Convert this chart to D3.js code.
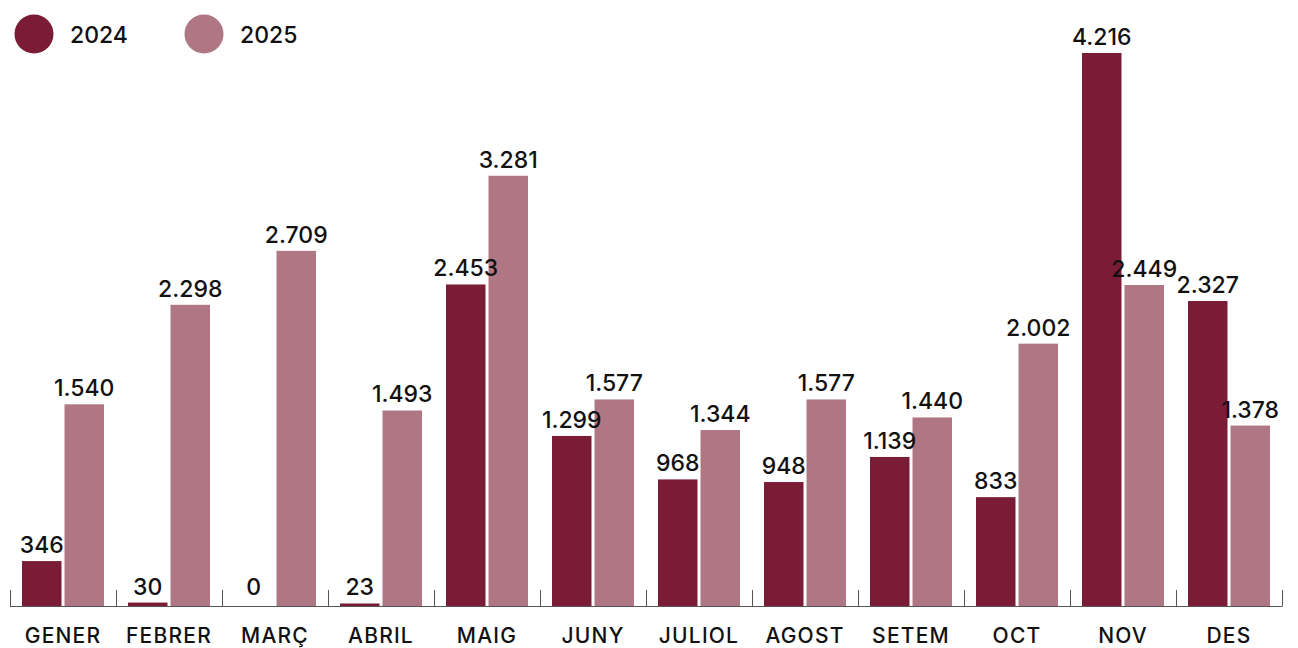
<!DOCTYPE html>
<html><head><meta charset="utf-8">
<script src="https://cdn.jsdelivr.net/npm/d3@7"></script>
<style>
html,body{margin:0;padding:0;background:#fff;}
text{font-family:Inter, "Liberation Sans", sans-serif;}
</style></head>
<body><svg id="chart" width="1298" height="648"></svg>
<script>
const months = ["GENER","FEBRER","MARÇ","ABRIL","MAIG","JUNY","JULIOL","AGOST","SETEM","OCT","NOV","DES"];
const seriesKeys = ["2024","2025"];
const values2024 = [346,30,0,23,2453,1299,968,948,1139,833,4216,2327];
const values2025 = [1540,2298,2709,1493,3281,1577,1344,1577,1440,2002,2449,1378];
const colors = ["#7a1c35","#af7784"];

const svg = d3.select("#chart");
const base = 606.5;
const x0 = d3.scaleBand().domain(months).range([10, 1282]).paddingInner(0).paddingOuter(0);
const bw = x0.bandwidth();
const x1 = d3.scaleBand().domain(seriesKeys).range([12, bw - 12]).paddingInner(0.071);
const y = d3.scaleLinear().domain([0, 4216]).range([base, 53]);
const loc = d3.formatLocale({decimal:",", thousands:".", grouping:[3], currency:["","€"]});
const fmt = loc.format(",d");

const data = months.map((m,i)=>({m, vals:[{k:"2024",v:values2024[i]},{k:"2025",v:values2025[i]}]}));

// bars
const g = svg.append("g");
const grp = g.selectAll("g.m").data(data).join("g").attr("transform", d=>`translate(${x0(d.m)},0)`);
grp.selectAll("rect").data(d=>d.vals).join("rect")
  .attr("x", d=>x1(d.k)).attr("width", x1.bandwidth())
  .attr("y", d=>y(d.v)).attr("height", d=>base - y(d.v))
  .attr("fill", (d,i)=>colors[i]);
grp.selectAll("text.val").data(d=>d.vals).join("text").attr("class","val")
  .attr("x", d=>x1(d.k)+x1.bandwidth()/2)
  .attr("y", d=>Math.min(y(d.v), base-4) - 8)
  .attr("text-anchor","middle")
  .attr("font-size", 23).attr("font-weight", 500).attr("fill","#111")
  .text(d=>fmt(d.v));

// axis
const ax = svg.append("g");
ax.append("line").attr("x1", 10).attr("x2", 1282).attr("y1", base).attr("y2", base).attr("stroke","#555").attr("stroke-width",1);
const bounds = months.map(m=>x0(m)).concat([x0(months[months.length-1])+bw]);
ax.selectAll("line.tick").data(bounds).join("line").attr("class","tick")
  .attr("x1", d=>Math.round(d)+0.5).attr("x2", d=>Math.round(d)+0.5)
  .attr("y1", 590).attr("y2", base).attr("stroke","#555").attr("stroke-width",1);
ax.selectAll("text.cat").data(months).join("text").attr("class","cat")
  .attr("x", d=>x0(d)+bw/2).attr("y", 643)
  .attr("text-anchor","middle").attr("font-size", 21).attr("letter-spacing", 1.2).attr("font-weight", 500).attr("fill","#111")
  .text(d=>d);

// legend
const leg = svg.append("g");
const legX = [34, 204];
seriesKeys.forEach((k,i)=>{
  leg.append("circle").attr("cx", legX[i]).attr("cy", 34).attr("r", 19.5).attr("fill", colors[i]);
  leg.append("text").attr("x", legX[i]+36).attr("y", 43).attr("font-size", 23).attr("font-weight",500).attr("fill","#111").text(k);
});
</script></body></html>
